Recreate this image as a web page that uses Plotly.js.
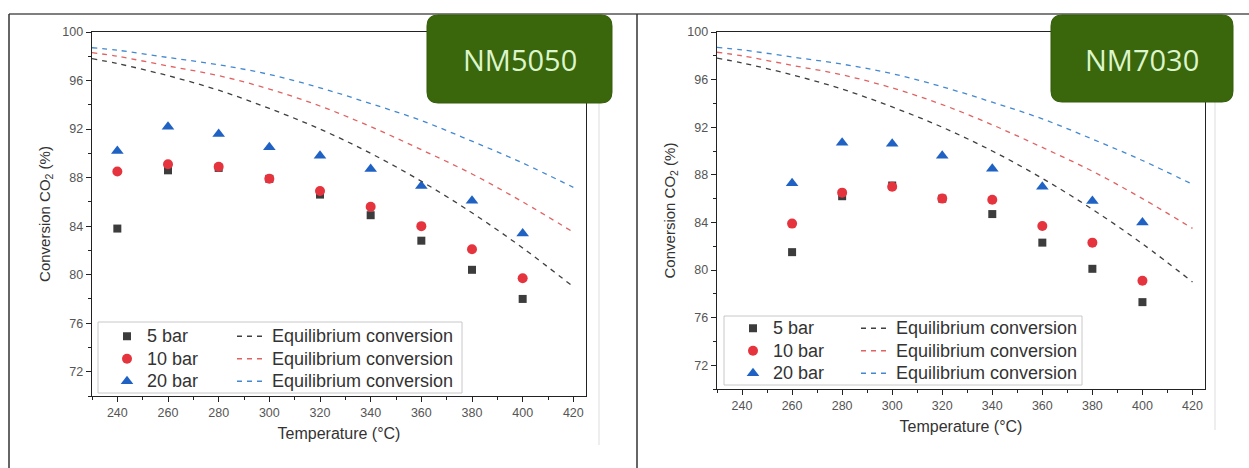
<!DOCTYPE html>
<html>
<head>
<meta charset="utf-8">
<script src="https://cdn.plot.ly/plotly-3.0.1.min.js"></script>
<style>html,body{margin:0;padding:0;background:#fff;}#chart{width:1249px;height:468px;}</style>
</head>
<body>
<div id="chart"></div>
<script>
// ---- Data ----
const temps5050 = [240, 260, 280, 300, 320, 340, 360, 380, 400];
const nm5050_5bar  = [83.8, 88.6, 88.8, 87.9, 86.6, 84.9, 82.8, 80.4, 78.0];
const nm5050_10bar = [88.5, 89.1, 88.9, 87.9, 86.9, 85.6, 84.0, 82.1, 79.7];
const nm5050_20bar = [90.2, 92.2, 91.6, 90.5, 89.8, 88.7, 87.3, 86.1, 83.4];

const temps7030 = [260, 280, 300, 320, 340, 360, 380, 400];
const nm7030_5bar  = [81.5, 86.2, 87.1, 86.0, 84.7, 82.3, 80.1, 77.3];
const nm7030_10bar = [83.9, 86.5, 87.0, 86.0, 85.9, 83.7, 82.3, 79.1];
const nm7030_20bar = [87.3, 90.7, 90.6, 89.6, 88.5, 87.0, 85.8, 84.0];

const eqTemps  = [230, 240, 260, 280, 300, 320, 340, 360, 380, 400, 420];
const eq_5bar  = [97.8, 97.4, 96.4, 95.2, 93.7, 92.0, 90.0, 87.7, 85.1, 82.2, 79.0];
const eq_10bar = [98.3, 98.0, 97.2, 96.4, 95.3, 93.9, 92.2, 90.3, 88.3, 86.0, 83.5];
const eq_20bar = [98.7, 98.5, 97.9, 97.3, 96.5, 95.4, 94.1, 92.7, 91.0, 89.2, 87.2];

const seriesNames = ['5 bar', '10 bar', '20 bar'];
const eqName = 'Equilibrium conversion';
const panelLabels = ['NM5050', 'NM7030'];
const xTitle = 'Temperature (°C)';
const yTitle = 'Conversion CO<sub>2</sub> (%)';

// ---- Styling ----
const W = 1249, H = 468;
const px = v => v / W, py = v => 1 - v / H;
const C_BLACK = '#3c3c3c', C_RED = '#e5343d', C_BLUE = '#1f62c4';
const L_BLACK = '#404040', L_RED = '#e06262', L_BLUE = '#4388d0';
const FONT = 'Liberation Sans, Arial, sans-serif';
const legName = s => '<span style="font-size:18px">' + s + '</span>';

function scatter(x, y, name, sym, col, size, xa, ya, leg) {
  return {x, y, name: legName(name), type: 'scatter', mode: 'markers', xaxis: xa, yaxis: ya, legend: leg,
    marker: {symbol: sym, color: col, size: size, line: {width: 0}}};
}
function eqLine(x, y, col, xa, ya, leg) {
  return {x, y, name: legName(eqName), type: 'scatter', mode: 'lines', xaxis: xa, yaxis: ya, legend: leg,
    line: {color: col, width: 1.3, dash: '5px,5px', shape: 'spline'}};
}

const data = [
  scatter(temps5050, nm5050_5bar,  seriesNames[0], 'square', C_BLACK, 8, 'x', 'y', 'legend'),
  scatter(temps5050, nm5050_10bar, seriesNames[1], 'circle', C_RED, 10, 'x', 'y', 'legend'),
  scatter(temps5050, nm5050_20bar, seriesNames[2], 'triangle-up', C_BLUE, 11, 'x', 'y', 'legend'),
  eqLine(eqTemps, eq_5bar,  L_BLACK, 'x', 'y', 'legend2'),
  eqLine(eqTemps, eq_10bar, L_RED,   'x', 'y', 'legend2'),
  eqLine(eqTemps, eq_20bar, L_BLUE,  'x', 'y', 'legend2'),
  scatter(temps7030, nm7030_5bar,  seriesNames[0], 'square', C_BLACK, 8, 'x2', 'y2', 'legend3'),
  scatter(temps7030, nm7030_10bar, seriesNames[1], 'circle', C_RED, 10, 'x2', 'y2', 'legend3'),
  scatter(temps7030, nm7030_20bar, seriesNames[2], 'triangle-up', C_BLUE, 11, 'x2', 'y2', 'legend3'),
  eqLine(eqTemps, eq_5bar,  L_BLACK, 'x2', 'y2', 'legend4'),
  eqLine(eqTemps, eq_10bar, L_RED,   'x2', 'y2', 'legend4'),
  eqLine(eqTemps, eq_20bar, L_BLUE,  'x2', 'y2', 'legend4')
];

function xAxis(domain, anchor) {
  return {domain, anchor, range: [230, 425], tick0: 240, dtick: 20,
    ticks: 'outside', ticklen: 5, tickwidth: 1, tickcolor: '#222',
    showline: true, linecolor: '#222', linewidth: 1.3, mirror: true,
    showgrid: false, zeroline: false,
    minor: {dtick: 10, ticks: 'outside', ticklen: 3, tickcolor: '#222', showgrid: false},
    tickfont: {family: FONT, size: 12.5, color: '#555'},
    title: {text: xTitle, font: {family: FONT, size: 16, color: '#333'}, standoff: 8}};
}
function yAxis(domain, anchor) {
  return {domain, anchor, range: [70, 100], tick0: 72, dtick: 4,
    ticks: 'outside', ticklen: 5, tickwidth: 1, tickcolor: '#222',
    showline: true, linecolor: '#222', linewidth: 1.3, mirror: true,
    showgrid: false, zeroline: false,
    minor: {dtick: 2, ticks: 'outside', ticklen: 3, tickcolor: '#222', showgrid: false},
    tickfont: {family: FONT, size: 12.5, color: '#555'},
    title: {text: yTitle, font: {family: FONT, size: 15, color: '#333'}, standoff: 8}};
}

function legendCfg(xpix, ypix) {
  return {x: px(xpix), y: py(ypix), xanchor: 'left', yanchor: 'top', orientation: 'v',
    bgcolor: 'rgba(0,0,0,0)', borderwidth: 0, traceorder: 'normal',
    font: {family: FONT, size: 15, color: '#333'}, itemwidth: 30};
}

// rounded rectangle path in paper coords
function roundRect(x0, y0, x1, y1, r) {
  const X = v => px(v).toFixed(5), Y = v => py(v).toFixed(5);
  return `M${X(x0 + r)},${Y(y0)} L${X(x1 - r)},${Y(y0)} Q${X(x1)},${Y(y0)} ${X(x1)},${Y(y0 + r)} ` +
    `L${X(x1)},${Y(y1 - r)} Q${X(x1)},${Y(y1)} ${X(x1 - r)},${Y(y1)} L${X(x0 + r)},${Y(y1)} ` +
    `Q${X(x0)},${Y(y1)} ${X(x0)},${Y(y1 - r)} L${X(x0)},${Y(y0 + r)} Q${X(x0)},${Y(y0)} ${X(x0 + r)},${Y(y0)} Z`;
}

function pline(x0, y0, x1, y1, col, w) {
  return {type: 'line', xref: 'paper', yref: 'paper', x0: px(x0), y0: py(y0), x1: px(x1), y1: py(y1),
    line: {color: col, width: w}, layer: 'above'};
}

const shapes = [
  // table borders
  pline(9, 14, 1249, 14, '#555', 1.5),
  pline(9, 14, 9, 468, '#333', 1.5),
  pline(637, 14, 637, 468, '#333', 1.5),
  // faint image edges
  pline(599, 100, 599, 445, '#ddd', 1),
  pline(1215, 100, 1215, 430, '#ddd', 1),
  // legend boxes
  {type: 'rect', xref: 'paper', yref: 'paper', x0: px(98), x1: px(462), y0: py(322), y1: py(393),
    line: {color: '#c8c8c8', width: 1}, fillcolor: 'rgba(255,255,255,0.9)', layer: 'below'},
  {type: 'rect', xref: 'paper', yref: 'paper', x0: px(724), x1: px(1082), y0: py(316), y1: py(385),
    line: {color: '#c8c8c8', width: 1}, fillcolor: 'rgba(255,255,255,0.9)', layer: 'below'},
  // green label boxes
  {type: 'path', xref: 'paper', yref: 'paper', path: roundRect(427, 15, 612, 103, 11),
    fillcolor: '#3a660c', line: {color: '#355e0a', width: 1}, layer: 'above'},
  {type: 'path', xref: 'paper', yref: 'paper', path: roundRect(1051, 15, 1233, 102, 11),
    fillcolor: '#3a660c', line: {color: '#355e0a', width: 1}, layer: 'above'}
];

const annotations = [
  {text: panelLabels[0], xref: 'paper', yref: 'paper', x: px(519.5), y: py(60), showarrow: false,
    xanchor: 'center', yanchor: 'middle', font: {family: 'Open Sans, Noto Sans, sans-serif', size: 29, color: '#dcf5ca'}},
  {text: panelLabels[1], xref: 'paper', yref: 'paper', x: px(1142), y: py(59), showarrow: false,
    xanchor: 'center', yanchor: 'middle', font: {family: 'Open Sans, Noto Sans, sans-serif', size: 29, color: '#dcf5ca'}}
];

const layout = {
  width: W, height: H, margin: {l: 0, r: 0, t: 0, b: 0},
  paper_bgcolor: '#fff', plot_bgcolor: 'rgba(0,0,0,0)',
  showlegend: true,
  xaxis: xAxis([px(92), px(586)], 'y'),
  yaxis: yAxis([py(396), py(32)], 'x'),
  xaxis2: xAxis([px(717), px(1205)], 'y2'),
  yaxis2: yAxis([py(389), py(32)], 'x2'),
  legend: legendCfg(107, 320),
  legend2: legendCfg(232, 320),
  legend3: legendCfg(733, 312),
  legend4: legendCfg(856, 312),
  shapes, annotations
};

Plotly.newPlot('chart', data, layout, {displayModeBar: false, staticPlot: true});
</script>
</body>
</html>
